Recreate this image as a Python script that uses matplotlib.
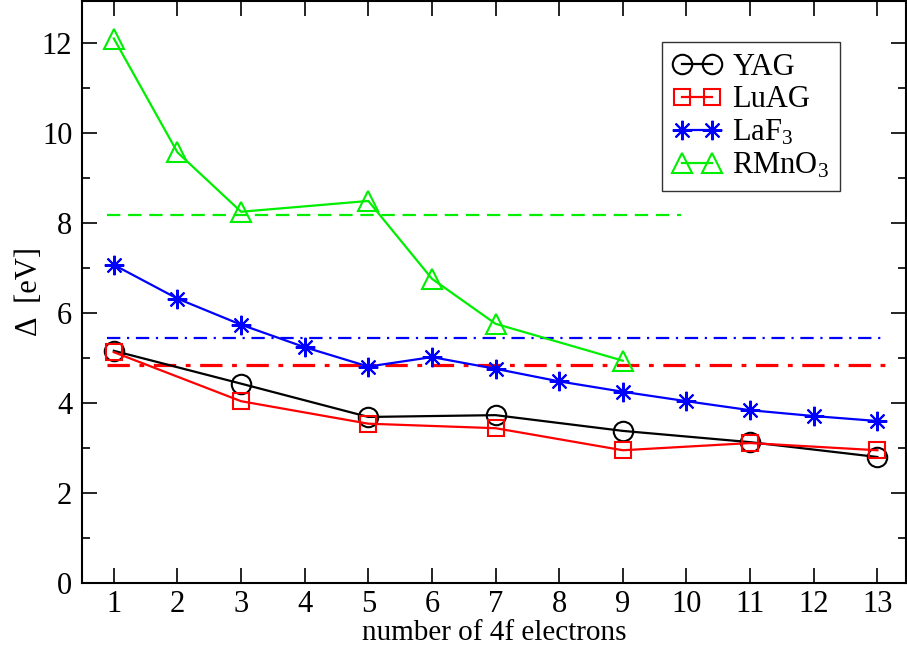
import matplotlib
matplotlib.use("Agg")
import matplotlib.pyplot as plt
from matplotlib.ticker import MultipleLocator

plt.rcParams['font.family'] = ['Liberation Serif', 'DejaVu Serif']
plt.rcParams['mathtext.fontset'] = 'custom'
plt.rcParams['mathtext.rm'] = 'Liberation Serif'
plt.rcParams['mathtext.it'] = 'Liberation Serif:italic'

# data
yag_x = [1, 3, 5, 7, 9, 11, 13]
yag_y = [5.16, 4.43, 3.69, 3.73, 3.38, 3.13, 2.80]
luag_x = [1, 3, 5, 7, 9, 11, 13]
luag_y = [5.13, 4.04, 3.54, 3.44, 2.95, 3.11, 2.95]
laf3_x = [1, 2, 3, 4, 5, 6, 7, 8, 9, 10, 11, 12, 13]
laf3_y = [7.07, 6.32, 5.74, 5.24, 4.81, 5.02, 4.76, 4.48, 4.25, 4.04, 3.84, 3.71, 3.60]
rmno3_x = [1, 2, 3, 5, 6, 7, 9]
rmno3_y = [12.10, 9.57, 8.25, 8.49, 6.76, 5.76, 4.94]

avg_rmno3 = 8.17
avg_laf3 = 5.45
avg_yag = 4.84
avg_rmno3_span = [0.9, 9.92]
avg_span = [0.9, 13.12]

xticks = list(range(1, 14))
yticks = [0, 2, 4, 6, 8, 10, 12]
labels = ['YAG', 'LuAG', r'LaF$_\mathregular{3}$', r'RMnO$_\mathregular{3}$']

W, H = 907, 648
fig = plt.figure(figsize=(W / 100, H / 100), dpi=100)
left, right, bottom, top = 82, 906, 583, 1
ax = fig.add_axes([left / W, (H - bottom) / H, (right - left) / W, (bottom - top) / H])

lw = 1.6
ax.plot(yag_x, yag_y, color='black', lw=lw, marker='o', ms=14, mfc='none', mew=1.5, label=labels[0], zorder=4)
ax.plot(luag_x, luag_y, color='red', lw=lw, marker='s', ms=12, mfc='none', mew=1.5, label=labels[1], zorder=4)
ax.plot(laf3_x, laf3_y, color='blue', lw=lw, marker=(8, 2, 0), ms=14, mew=1.5, label=labels[2], zorder=4)
ax.plot(rmno3_x, rmno3_y, color='#00ee00', lw=lw, marker='^', ms=15, mfc='none', mew=1.5, label=labels[3], zorder=4)

ax.hlines(avg_rmno3, *avg_rmno3_span, colors='#00ee00', linestyles=(0, (6, 3.5)), lw=1.6, zorder=3)
ax.hlines(avg_laf3, *avg_span, colors='blue', linestyles=(0, (6, 3, 1, 3, 6, 3, 1, 3)), lw=1.6, zorder=3)
ax.hlines(avg_yag, *avg_span, colors='red', linestyles=(0, (7, 3, 1.5, 3)), lw=2.3, zorder=3)

ax.set_xlim(0.5, 13.45)
ax.set_ylim(0, (bottom - top) / 45.0)
ax.set_xticks(xticks)
ax.set_yticks(yticks)
ax.yaxis.set_minor_locator(MultipleLocator(1))
ax.tick_params(which='major', direction='in', length=11, width=1.2, top=True, right=True,
               labelsize=22, pad=7)
ax.tick_params(axis='x', which='major', pad=5)
ax.tick_params(which='minor', direction='in', length=6, width=1.2, top=False, right=True)
ax.tick_params(axis='x', which='minor', bottom=False, top=False)
for s in ax.spines.values():
    s.set_linewidth(1.5)

ax.set_xlabel('number of 4f electrons', fontsize=21)
ax.xaxis.set_label_coords(0.5, -(640 - bottom) / (bottom - top), transform=ax.transAxes)
ax.xaxis.label.set_va('baseline')
ax.set_ylabel('Δ  [eV]', fontsize=22)
ax.yaxis.set_label_coords(-(left - 30) / (right - left), 0.5, transform=ax.transAxes)
ax.yaxis.label.set_va('center')

leg = ax.legend(loc='upper left', bbox_to_anchor=((662 - left) / (right - left), (bottom - 42) / (bottom - top)),
                fontsize=22, numpoints=2, handlelength=1.6, handletextpad=0.35, labelspacing=0.12,
                borderpad=0.35, borderaxespad=0, frameon=True, fancybox=False)
leg.get_frame().set_edgecolor('black')
leg.get_frame().set_linewidth(1.0)

fig.savefig('out.png', dpi=100)
